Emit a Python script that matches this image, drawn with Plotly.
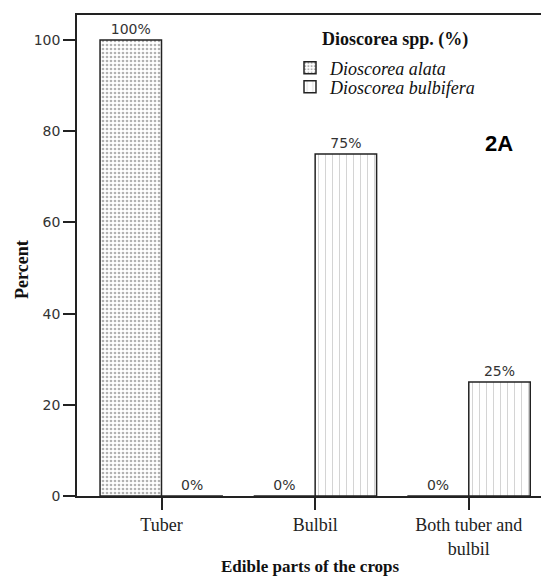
import plotly.graph_objects as go

categories = ["Tuber", "Bulbil", "Both tuber and<br>bulbil"]
alata = [100, 0, 0]
bulbifera = [0, 75, 25]
series_names = ["Dioscorea alata", "Dioscorea bulbifera"]
legend_title = "Dioscorea spp. (%)"
x_title = "Edible parts of the crops"
y_title = "Percent"
y_ticks = [0, 20, 40, 60, 80, 100]

L, R, T, B = 77, 0, 15, 81
W, H = 541, 577
PW, PH = W - L - R, H - T - B


def px_x(x):
    return (x - L) / PW


def px_y(y):
    return (H - B - y) / PH


fig = go.Figure()
fig.add_trace(go.Bar(
    x=categories, y=alata, name=series_names[0], legend="legend",
    marker=dict(color="white", line=dict(color="#222", width=1.5),
                pattern=dict(shape=".", fgcolor="#666", bgcolor="white", size=4, solidity=0.35)),
    text=[f"{v}%" for v in alata], textposition="outside", cliponaxis=False,
    textfont=dict(family="DejaVu Sans", size=14, color="#333"),
))
fig.add_trace(go.Bar(
    x=categories, y=bulbifera, name=series_names[1], legend="legend2",
    marker=dict(color="white", line=dict(color="#222", width=1.5),
                pattern=dict(shape="|", fgcolor="#999", bgcolor="white", size=7, solidity=0.12)),
    text=[f"{v}%" for v in bulbifera], textposition="outside", cliponaxis=False,
    textfont=dict(family="DejaVu Sans", size=14, color="#333"),
))

leg_common = dict(
    xanchor="left", yanchor="middle",
    font=dict(family="Liberation Serif", size=18, color="#111", style="italic"),
    bgcolor="rgba(0,0,0,0)", itemwidth=30, borderwidth=0,
)

fig.update_layout(
    width=W, height=H,
    margin=dict(l=L, r=R, t=T, b=B, autoexpand=False),
    paper_bgcolor="white", plot_bgcolor="white",
    barmode="group", bargap=0.2, bargroupgap=0,
    showlegend=True,
    legend=dict(x=px_x(290), y=px_y(68), **leg_common),
    legend2=dict(x=px_x(290), y=px_y(87), **leg_common),
    xaxis=dict(
        range=[-0.55, 2.47], showline=True, linecolor="#222", linewidth=1.5, mirror=True,
        ticks="outside", ticklen=12, tickcolor="#222", tickwidth=1.5,
        tickfont=dict(family="Liberation Serif", size=18, color="#222"),
        automargin=False, showgrid=False, zeroline=False,
    ),
    yaxis=dict(
        range=[0, 105.5], tickvals=y_ticks, showline=True, linecolor="#222", linewidth=1.5,
        ticks="outside", ticklen=12, tickcolor="#222", tickwidth=1.5,
        tickfont=dict(family="DejaVu Sans", size=14, color="#333"),
        automargin=False, showgrid=False, zeroline=False,
    ),
    annotations=[
        dict(text="<b>2A</b>", x=px_x(515), y=px_y(129), xref="paper", yref="paper",
             showarrow=False, font=dict(family="Liberation Sans", size=22, color="black")),
        dict(text=f"<b>{legend_title}</b>", x=px_x(320), y=px_y(40), xref="paper", yref="paper",
             xanchor="left", yanchor="middle", showarrow=False,
             font=dict(family="Liberation Serif", size=18, color="#111")),
        dict(text=f"<b>{x_title}</b>", x=px_x(310), y=px_y(566), xref="paper", yref="paper",
             xanchor="center", yanchor="middle", showarrow=False,
             font=dict(family="Liberation Serif", size=17, color="#111")),
        dict(text=f"<b>{y_title}</b>", x=px_x(22), y=px_y(270), xref="paper", yref="paper",
             xanchor="center", yanchor="middle", showarrow=False, textangle=-90,
             font=dict(family="Liberation Serif", size=18, color="#111")),
    ],
)

fig.write_html(
    "out.html",
    config={"displayModeBar": False},
    post_script="document.body.style.margin='0';document.documentElement.style.overflow='hidden';",
)
